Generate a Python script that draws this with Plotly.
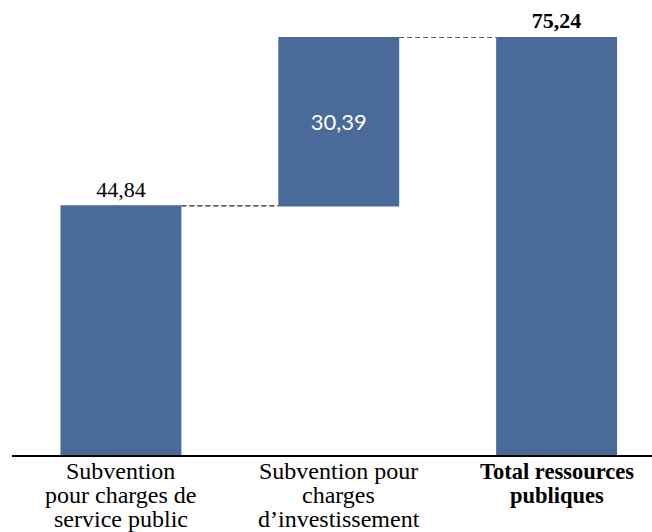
import plotly.graph_objects as go

categories = ["Subvention<br>pour charges de<br>service public",
              "Subvention pour<br>charges<br>d’investissement",
              "Total ressources<br>publiques"]
category_bold = [False, False, True]
values = [44.84, 30.39, 75.24]
measures = ["absolute", "relative", "absolute"]
labels = ["44,84", "<span style='font-family:Lato'>30,39</span>", "<b>75,24</b>"]

BAR = "#4A6A99"
FONT = "Palatino Linotype, Book Antiqua, Palatino, Liberation Serif, serif"
TICK_SIZE = 24
TICK_SIZE_BOLD = 22.5
LINE_GAP = 24.2
FIRST_LINE = 16

fig = go.Figure(go.Waterfall(
    x=list(range(len(categories))),
    y=values,
    measure=measures,
    text=labels,
    textposition=["outside", "inside", "outside"],
    insidetextanchor="middle",
    textfont=dict(family=FONT, size=22, color=["#000000", "#FFFFFF", "#000000"]),
    increasing=dict(marker=dict(color=BAR)),
    decreasing=dict(marker=dict(color=BAR)),
    totals=dict(marker=dict(color=BAR)),
    connector=dict(mode="between", line=dict(color="#222222", width=1.2, dash="5px,3px")),
    width=0.555,
    cliponaxis=False,
    hoverinfo="skip",
))

# category labels, one annotation per line for tight line spacing
for i, cat in enumerate(categories):
    for j, line in enumerate(cat.split("<br>")):
        txt = f"<b>{line}</b>" if category_bold[i] else line
        fig.add_annotation(x=i, xref="x", y=0, yref="y", text=txt, showarrow=False,
                           xanchor="center", yanchor="middle",
                           yshift=-(FIRST_LINE + LINE_GAP * j),
                           font=dict(family=FONT,
                                     size=TICK_SIZE_BOLD if category_bold[i] else TICK_SIZE,
                                     color="#000000"))

fig.update_layout(
    width=652, height=532,
    margin=dict(l=11.5, r=0, t=37, b=77),
    paper_bgcolor="white", plot_bgcolor="white",
    showlegend=False,
    font=dict(family=FONT, size=18, color="#000000"),
    xaxis=dict(range=[-0.5, 2.438], showticklabels=False,
               showline=True, linecolor="#000000", linewidth=1.5, showgrid=False, zeroline=False,
               ticks=""),
    yaxis=dict(range=[0, 75.24], visible=False, showgrid=False, zeroline=False),
)

fig.write_html("out.html", config={"displayModeBar": False},
               post_script="document.body.style.margin='0';document.body.style.overflow='hidden';")
